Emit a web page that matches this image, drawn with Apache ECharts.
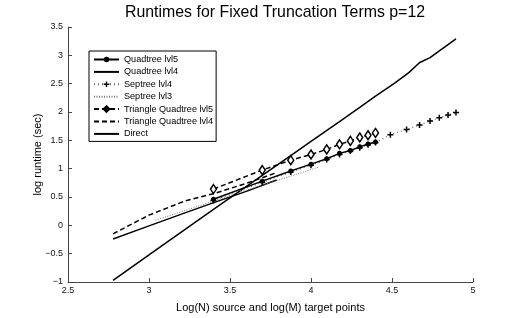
<!DOCTYPE html>
<html><head><meta charset="utf-8">
<script src="https://cdn.jsdelivr.net/npm/echarts@6/dist/echarts.min.js"></script>
<style>html,body{margin:0;padding:0;background:#fff}#c{width:524px;height:318px}</style>
</head><body><div id="c"></div>
<script>
// ---- data ----
const xLvl5 = [3.398, 3.699, 3.875, 4.0, 4.097, 4.176, 4.243, 4.301, 4.352, 4.398];
const quadLvl5 = [0.46, 0.78, 0.96, 1.08, 1.175, 1.27, 1.32, 1.385, 1.435, 1.47];
const triLvl5 = [0.64, 0.975, 1.15, 1.25, 1.34, 1.43, 1.49, 1.55, 1.59, 1.63];

const xSept4 = [3.398, 3.699, 3.875, 4.0, 4.097, 4.176, 4.243, 4.301, 4.352, 4.398, 4.49, 4.59, 4.67, 4.735, 4.792, 4.846, 4.895];
const sept4 = [0.44, 0.76, 0.94, 1.06, 1.16, 1.25, 1.31, 1.37, 1.42, 1.46, 1.60, 1.69, 1.77, 1.84, 1.90, 1.945, 1.99];

const xLvl4 = [2.778, 3.0, 3.222, 3.4, 3.6, 3.788];
const quadLvl4 = [-0.24, -0.01, 0.22, 0.40, 0.60, 0.80];
const triLvl4 = [-0.15, 0.18, 0.43, 0.56, 0.74, 0.93];

const xSept3 = [3.04, 3.2, 3.4, 3.6, 3.8, 4.05];
const sept3 = [0.09, 0.24, 0.43, 0.62, 0.80, 1.03];

const xDirect = [2.778, 3.0, 3.398, 3.699, 3.875, 4.0, 4.176, 4.301, 4.398, 4.512, 4.602, 4.669, 4.735, 4.792, 4.846, 4.895];
const direct = [-0.97, -0.52, 0.28, 0.88, 1.23, 1.48, 1.83, 2.08, 2.28, 2.50, 2.69, 2.87, 2.96, 3.08, 3.19, 3.29];

const xTicks = [2.5, 3, 3.5, 4, 4.5, 5];
const yTicks = [-1, -0.5, 0, 0.5, 1, 1.5, 2, 2.5, 3, 3.5];

function pairs(xs, ys) { return xs.map((x, i) => [x, ys[i]]); }

const plusPath = 'path://M3,0H5V3H8V5H5V8H3V5H0V3H3Z';
const font = 'Liberation Sans, Arial, Helvetica, sans-serif';
const noMark = {opacity: 0};

const chart = echarts.init(document.getElementById('c'), null, {renderer: 'canvas'});
chart.setOption({
  animation: false,
  backgroundColor: '#fff',
  title: {
    text: 'Runtimes for Fixed Truncation Terms p=12',
    left: 270, top: 0, textAlign: 'center',
    textStyle: {fontFamily: font, fontSize: 15.9, fontWeight: 'normal', color: '#000'}
  },
  grid: {left: 68, right: 51, top: 27, bottom: 36, containLabel: false},
  xAxis: {
    type: 'value', min: 2.5, max: 5, interval: 0.5,
    name: 'Log(N) source and log(M) target points', nameLocation: 'middle', nameGap: 20,
    nameMoveOverlap: false,
    nameTextStyle: {fontFamily: font, fontSize: 11, color: '#000'},
    axisLine: {onZero: false, lineStyle: {color: '#444', width: 1}},
    axisTick: {inside: true, length: 4, lineStyle: {color: '#444'}},
    axisLabel: {fontFamily: font, fontSize: 9, color: '#111', margin: 4,
      formatter: v => String(v)},
    splitLine: {show: false}
  },
  yAxis: {
    type: 'value', min: -1, max: 3.5, interval: 0.5,
    name: 'log runtime (sec)', nameLocation: 'middle', nameGap: 25, nameRotate: 90,
    nameMoveOverlap: false,
    nameTextStyle: {fontFamily: font, fontSize: 11, color: '#000'},
    axisLine: {show: true, onZero: false, lineStyle: {color: '#444', width: 1}},
    axisTick: {show: true, inside: true, length: 4, lineStyle: {color: '#444'}},
    axisLabel: {fontFamily: font, fontSize: 9, color: '#111', margin: 5,
      formatter: v => (v < 0 ? '\u2212' + String(-v) : String(v))},
    splitLine: {show: false}
  },
  legend: {
    left: 89, top: 51, orient: 'vertical',
    itemWidth: 25, itemHeight: 7, itemGap: 3.4,
    padding: [4, 3, 3, 4],
    borderColor: '#000', borderWidth: 1, backgroundColor: '#fff',
    textStyle: {fontFamily: font, fontSize: 9.1, color: '#000', lineHeight: 9},
    data: [
      {name: 'Quadtree lvl5'},
      {name: 'Quadtree lvl4', itemStyle: noMark},
      {name: 'Septree lvl4'},
      {name: 'Septree lvl3', itemStyle: noMark},
      {name: 'Triangle Quadtree lvl5', itemStyle: {color: '#000', borderColor: '#000'}},
      {name: 'Triangle Quadtree lvl4', itemStyle: noMark},
      {name: 'Direct', itemStyle: noMark}
    ]
  },
  series: [
    {name: 'Quadtree lvl5', type: 'line', data: pairs(xLvl5, quadLvl5),
     symbol: 'circle', symbolSize: 5, showAllSymbol: true,
     lineStyle: {color: '#000', width: 1.5}, itemStyle: {color: '#000'}, z: 5},
    {name: 'Quadtree lvl4', type: 'line', data: pairs(xLvl4, quadLvl4),
     symbol: 'none', lineStyle: {color: '#000', width: 1.5}, itemStyle: {color: '#000'}},
    {name: 'Septree lvl4', type: 'line', data: pairs(xSept4, sept4),
     symbol: plusPath, symbolSize: 6, showAllSymbol: true,
     lineStyle: {color: '#666', width: 1.2, type: [1, 3]}, itemStyle: {color: '#000'}, z: 4},
    {name: 'Septree lvl3', type: 'line', data: pairs(xSept3, sept3),
     symbol: 'none', lineStyle: {color: '#777', width: 1, type: [1, 1.5]}, itemStyle: {color: '#777'}},
    {name: 'Triangle Quadtree lvl5', type: 'line', data: pairs(xLvl5, triLvl5),
     symbol: 'diamond', symbolSize: [6, 9], showAllSymbol: true,
     lineStyle: {color: '#000', width: 1.5, type: [5, 3]},
     itemStyle: {color: '#fff', borderColor: '#000', borderWidth: 1.5}, z: 6},
    {name: 'Triangle Quadtree lvl4', type: 'line', data: pairs(xLvl4, triLvl4),
     symbol: 'none', lineStyle: {color: '#000', width: 1.5, type: [5, 3]}, itemStyle: {color: '#000'}},
    {name: 'Direct', type: 'line', data: pairs(xDirect, direct),
     symbol: 'none', lineStyle: {color: '#000', width: 1.5}, itemStyle: {color: '#000'}}
  ]
});
</script></body></html>
